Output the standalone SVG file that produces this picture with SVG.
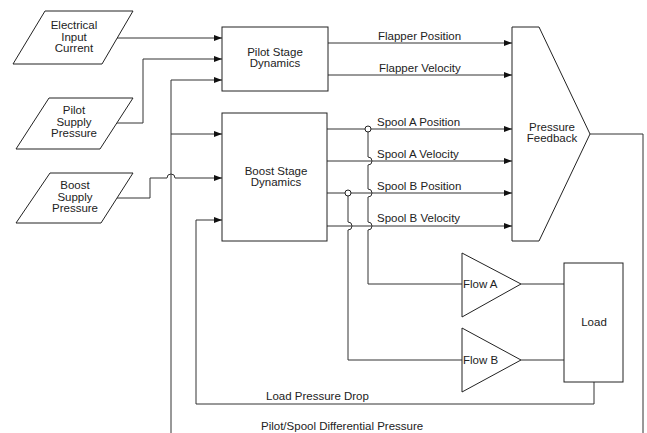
<svg xmlns="http://www.w3.org/2000/svg" width="647" height="433" viewBox="0 0 647 433">
<style>
.shape{fill:#fff;stroke:#222;stroke-width:1}
.wire{fill:none;stroke:#333;stroke-width:1}
text{font-family:"Liberation Sans",Arial,sans-serif;font-size:11.5px;fill:#222}
.c{text-anchor:middle}
</style>
<defs>
<marker id="arr" markerWidth="9" markerHeight="7" refX="8" refY="3" orient="auto" markerUnits="userSpaceOnUse">
<path d="M0,0 L8,3 L0,6 z" fill="#111"/>
</marker>
</defs>
<rect width="647" height="433" fill="#fff"/>

<g id="connectors">
<path class="wire" d="M117,38 H222" marker-end="url(#arr)"/>
<path class="wire" d="M117,123 H143 V59 H222" marker-end="url(#arr)"/>
<path class="wire" d="M171,433 V80 H222" marker-end="url(#arr)"/>
<path class="wire" d="M171,134 H222" marker-end="url(#arr)"/>
<path class="wire" d="M117,198 H150 V178 H167 A4 4 0 0 1 175,178 H222" marker-end="url(#arr)"/>
<path class="wire" d="M594,382 V404 H196 V220 H222" marker-end="url(#arr)"/>
<path class="wire" d="M590,134 H643 V433"/>
<path class="wire" d="M328,43 H512" marker-end="url(#arr)"/>
<path class="wire" d="M328,75 H512" marker-end="url(#arr)"/>
<path class="wire" d="M327,129 H512" marker-end="url(#arr)"/>
<path class="wire" d="M327,161 H512" marker-end="url(#arr)"/>
<path class="wire" d="M327,193 H512" marker-end="url(#arr)"/>
<path class="wire" d="M327,226 H512" marker-end="url(#arr)"/>
<path class="wire" d="M368,132 V157 A4 4 0 0 1 368,165 V189 A4 4 0 0 1 368,197 V222 A4 4 0 0 1 368,230 V284 H462"/>
<path class="wire" d="M348,196 V222 A4 4 0 0 1 348,230 V360 H462"/>
<circle cx="368" cy="129" r="3" fill="#fff" stroke="#222"/>
<circle cx="348" cy="193" r="3" fill="#fff" stroke="#222"/>
<path class="wire" d="M521,284 H564"/>
<path class="wire" d="M521,360 H564"/>
<text x="378" y="40">Flapper Position</text>
<text x="379" y="72">Flapper Velocity</text>
<text x="377" y="126">Spool A Position</text>
<text x="377" y="158">Spool A Velocity</text>
<text x="377" y="190">Spool B Position</text>
<text x="377" y="222">Spool B Velocity</text>
<text x="266" y="400">Load Pressure Drop</text>
<text x="261" y="429.5">Pilot/Spool Differential Pressure</text>
</g>

<g id="electrical-input">
<polygon class="shape" points="45,11 133,11 102,64 13,64"/>
<text class="c" x="74" y="29">Electrical</text>
<text class="c" x="74" y="40.5">Input</text>
<text class="c" x="74" y="52">Current</text>
</g>
<g id="pilot-supply">
<polygon class="shape" points="49,98 133,98 100,149 16,149"/>
<text class="c" x="74" y="114">Pilot</text>
<text class="c" x="74" y="125.5">Supply</text>
<text class="c" x="74" y="137">Pressure</text>
</g>
<g id="boost-supply">
<polygon class="shape" points="50,173 133,173 101,223 16,223"/>
<text class="c" x="75" y="189">Boost</text>
<text class="c" x="75" y="200.5">Supply</text>
<text class="c" x="75" y="212">Pressure</text>
</g>
<g id="pilot-stage">
<rect class="shape" x="222" y="27" width="106" height="64"/>
<text class="c" x="275" y="56">Pilot Stage</text>
<text class="c" x="275" y="67">Dynamics</text>
</g>
<g id="boost-stage">
<rect class="shape" x="222" y="113" width="105" height="128"/>
<text class="c" x="276" y="175">Boost Stage</text>
<text class="c" x="276" y="186">Dynamics</text>
</g>
<g id="pressure-feedback">
<polygon class="shape" points="512,27 539,27 590,134 539,241 512,241"/>
<text class="c" x="552" y="131">Pressure</text>
<text class="c" x="552" y="142">Feedback</text>
</g>
<g id="flow-a">
<polygon class="shape" points="462,253 521,284 462,317"/>
<text x="463" y="288">Flow A</text>
</g>
<g id="flow-b">
<polygon class="shape" points="462,328 521,360 462,392"/>
<text x="463" y="364">Flow B</text>
</g>
<g id="load">
<rect class="shape" x="564" y="263" width="59" height="119"/>
<text class="c" x="594" y="326">Load</text>
</g>
</svg>
